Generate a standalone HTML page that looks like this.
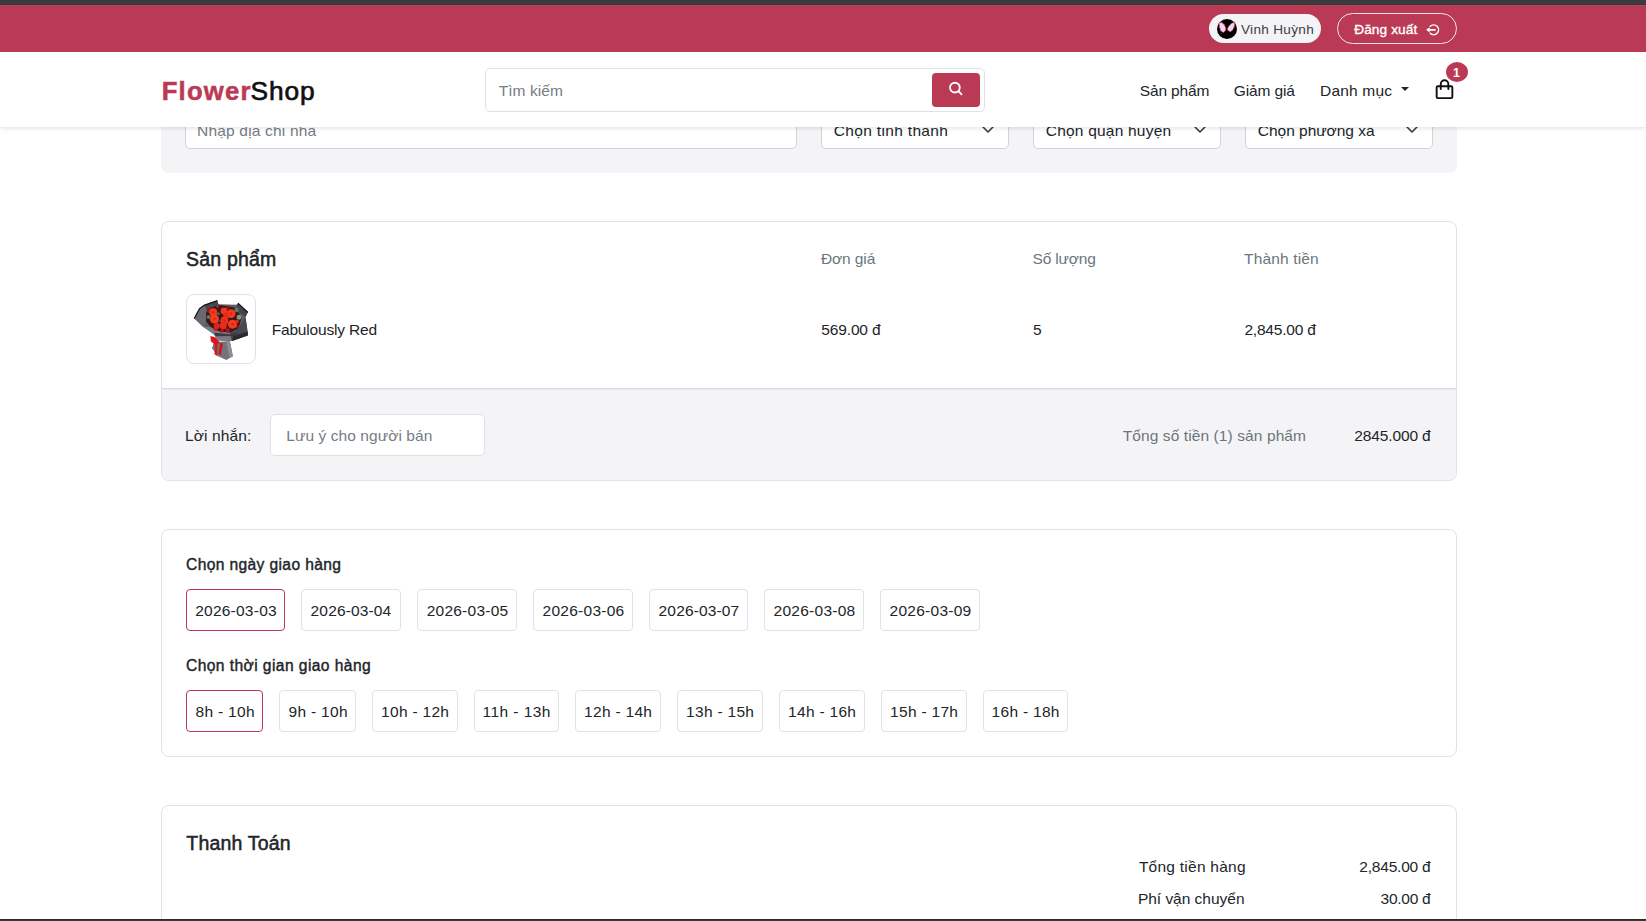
<!DOCTYPE html>
<html lang="vi">
<head>
<meta charset="utf-8">
<title>FlowerShop - Thanh Toán</title>
<style>
*{box-sizing:border-box;margin:0;padding:0}
html,body{width:1646px;height:921px;overflow:hidden;background:#fff}
body{position:relative;font-family:"Liberation Sans",sans-serif;font-size:16px;color:#212529}
.abs{position:absolute}
.t{position:absolute;white-space:nowrap;font-weight:400}
.card{position:absolute;left:161px;width:1296px;border:1px solid #dfe3e7;border-radius:8px;background:#fff;overflow:hidden;z-index:1}
.grey{background:#f4f4f6}
.inp{position:absolute;background:#fff;border:1px solid #dee2e6;border-radius:5px}
.addr .inp{top:45px;height:44px;border-color:#ced4da}
.chip{position:absolute;height:42px;border:1px solid #dfe3e7;border-radius:4px;background:#fff}
.chip.on{border-color:#ba3a55}
svg{position:absolute;overflow:visible}
</style>
</head>
<body>

<header>
  <div class="abs" style="left:0;top:0;width:1646px;height:5px;background:linear-gradient(#3c3c40 0 4px,#34393d 4px 5px);z-index:7"></div>
  <div class="abs" style="left:0;top:5px;width:1646px;height:47px;background:#ba3a55;box-shadow:inset 0 1px 0 #c43a59;z-index:6">
    <div class="abs" style="left:1209px;top:9px;width:112px;height:29px;border-radius:15px;background:#f4f4f6">
      <svg style="left:8px;top:5px" width="20" height="20" viewBox="0 0 20 20">
        <circle cx="10" cy="10" r="10" fill="#000"/>
        <path d="M1.9 4.1 4.5 3.3 7.5 5.8 8.9 9.15 8.5 11.7 6.4 13.6 3.6 12.1 2.5 8.3Z" fill="#dadeff" stroke="#ee1420" stroke-width=".75" stroke-linejoin="round"/>
        <path d="M17.8 3.3 14.8 4.1 11.8 7.1 10.2 10 11.4 12.1 13.6 12.8 16.15 10.4 17.6 6.7Z" fill="#dadeff" stroke="#ee1420" stroke-width=".75" stroke-linejoin="round"/>
        <circle cx="4.3" cy="14.6" r=".6" fill="#3b35a8"/>
      </svg>
      <span class="t" style="left:32.00px;top:4.00px;font-size:13.58px;line-height:24px;color:#3d4147;letter-spacing:0.311px">Vinh Huỳnh</span>
    </div>
    <div class="abs" style="left:1337px;top:8px;width:120px;height:31px;border-radius:16px;border:1px solid #f3e3e7">
      <span class="t" style="left:16.20px;top:4.00px;font-size:13.65px;line-height:24px;color:#ffffff;letter-spacing:0.113px;-webkit-text-stroke:0.35px #ffffff">Đăng xuất</span>
      <svg style="left:87px;top:9px" width="15" height="14" viewBox="0 0 15 14">
        <path d="M5.2 3.3A4.9 4.9 0 1 1 5.2 10.3" fill="none" stroke="#fff" stroke-width="1.45" stroke-linecap="round"/>
        <path d="M3.8 6.8H10" fill="none" stroke="#fff" stroke-width="1.7" stroke-linecap="round"/>
        <path d="M1.2 6.8 4.6 4.2V9.4Z" fill="#fff"/>
      </svg>
    </div>
  </div>
  <nav class="abs" style="left:0;top:52px;width:1646px;height:75px;background:#fff;box-shadow:0 1px 5px rgba(0,0,0,.13);z-index:5">
    <span class="t" style="left:161.75px;top:21.00px;font-size:25.65px;line-height:36px;color:#ba3a55;font-weight:700;letter-spacing:1.199px;-webkit-text-stroke:0.5px #ba3a55">Flower</span><span class="t" style="left:250.60px;top:21.00px;font-size:26.32px;line-height:36px;color:#111111;letter-spacing:0.861px;-webkit-text-stroke:0.68px #111111">Shop</span>
    <div class="inp" style="left:485px;top:16px;width:500px;height:44px">
      <span class="t" style="left:12.75px;top:10.00px;font-size:15.52px;line-height:24px;color:#757c84;letter-spacing:0.042px">Tìm kiếm</span>
      <div class="abs" style="left:446px;top:4px;width:48px;height:34px;border-radius:4px;background:#ba3a55">
        <svg style="left:14px;top:6px" width="20" height="20" viewBox="0 0 20 20">
          <circle cx="8.9" cy="8.6" r="4.85" fill="none" stroke="#fff" stroke-width="1.85"/>
          <path d="M12.5 12.2 15.5 15.3" stroke="#fff" stroke-width="1.9" stroke-linecap="round"/>
        </svg>
      </div>
    </div>
    <span class="t" style="left:1139.75px;top:27.00px;font-size:15.52px;line-height:24px;color:#212529;letter-spacing:-0.151px">Sản phẩm</span><span class="t" style="left:1233.75px;top:27.00px;font-size:15.52px;line-height:24px;color:#212529;letter-spacing:-0.137px">Giảm giá</span><span class="t" style="left:1320.00px;top:27.00px;font-size:15.52px;line-height:24px;color:#212529;letter-spacing:0.185px">Danh mục</span>
    <svg style="left:1401px;top:35px" width="8" height="4" viewBox="0 0 8 4"><path d="M0 0H8L4 4Z" fill="#212529"/></svg>
    <svg style="left:1434px;top:26px" width="22" height="23" viewBox="0 0 22 23">
      <path d="M6.75 11V6A3.8 3.8 0 0 1 14.35 6V11" fill="none" stroke="#111" stroke-width="1.9" stroke-linecap="round"/>
      <rect x="2.65" y="8.25" width="15.7" height="11.9" rx="1.2" fill="none" stroke="#111" stroke-width="1.9"/>
    </svg>
    <div class="abs" style="left:1446px;top:10px;width:22px;height:20px;border-radius:50%;background:#ba3a55"><span class="t" style="left:6.90px;top:-1.00px;font-size:12.35px;line-height:24px;color:#ffffff;font-weight:700">1</span></div>
  </nav>
</header>

<main>
  <section class="abs grey addr" style="left:161px;top:60px;width:1296px;height:113px;border-radius:0 0 8px 8px;z-index:0">
    <div class="inp" style="left:24px;width:612px"><span class="t" style="left:11.10px;top:12.60px;font-size:15.52px;line-height:24px;color:#757c84;letter-spacing:0.172px">Nhập địa chỉ nhà</span></div>
    <div class="inp" style="left:660px;width:188px"><span class="t" style="left:11.75px;top:12.60px;font-size:15.52px;line-height:24px;color:#212529;letter-spacing:0.327px">Chọn tỉnh thành</span><svg style="left:159px;top:16px" width="14" height="12" viewBox="0 0 14 12"><path d="M1.8 4.7 7 10 12.2 4.7" fill="none" stroke="#343a40" stroke-width="1.6" stroke-linecap="round" stroke-linejoin="round"/></svg></div>
    <div class="inp" style="left:872px;width:188px"><span class="t" style="left:11.75px;top:12.60px;font-size:15.52px;line-height:24px;color:#212529;letter-spacing:0.205px">Chọn quận huyện</span><svg style="left:159px;top:16px" width="14" height="12" viewBox="0 0 14 12"><path d="M1.8 4.7 7 10 12.2 4.7" fill="none" stroke="#343a40" stroke-width="1.6" stroke-linecap="round" stroke-linejoin="round"/></svg></div>
    <div class="inp" style="left:1084px;width:188px"><span class="t" style="left:11.75px;top:12.60px;font-size:15.52px;line-height:24px;color:#212529;letter-spacing:-0.023px">Chọn phường xã</span><svg style="left:159px;top:16px" width="14" height="12" viewBox="0 0 14 12"><path d="M1.8 4.7 7 10 12.2 4.7" fill="none" stroke="#343a40" stroke-width="1.6" stroke-linecap="round" stroke-linejoin="round"/></svg></div>
  </section>

  <section class="card" style="top:221px;height:260px">
    <div><span class="t" style="left:24.00px;top:21.60px;font-size:19.5px;line-height:30px;color:#212529;letter-spacing:0.193px;-webkit-text-stroke:0.51px #212529">Sản phẩm</span><span class="t" style="left:658.90px;top:25.00px;font-size:15.52px;line-height:24px;color:#6c757d;letter-spacing:-0.099px">Đơn giá</span><span class="t" style="left:870.50px;top:25.00px;font-size:15.52px;line-height:24px;color:#6c757d;letter-spacing:-0.161px">Số lượng</span><span class="t" style="left:1082.00px;top:25.00px;font-size:15.52px;line-height:24px;color:#6c757d;letter-spacing:0.157px">Thành tiền</span></div>
    <div>
      <div class="abs" style="left:24px;top:72px;width:70px;height:70px;border:1px solid #dee2e6;border-radius:8px;background:#fff">
        <svg style="left:-6px;top:-6px" width="80" height="80" viewBox="0 0 921 921">
  <defs><filter id="bl" x="-10%" y="-10%" width="120%" height="120%"><feGaussianBlur stdDeviation="8"/></filter></defs>
  <g filter="url(#bl)">
    <polygon points="155,340 215,225 270,185 415,135 432,175 640,182 660,165 770,265 742,322 760,440 770,532 585,600 430,592 378,522 250,432" fill="#605d66"/>
    <polygon points="155,340 215,225 270,185 300,255 290,380 250,432" fill="#6b6870"/>
    <polygon points="270,185 415,135 432,175 305,255" fill="#4a464d"/>
    <polygon points="640,182 660,165 770,265 742,322 650,250" fill="#45424a"/>
    <polygon points="290,265 330,225 420,185 520,195 625,215 700,325 660,455 560,505 440,490 345,440 290,375" fill="#3a1418"/>
    <polygon points="250,432 345,440 440,490 560,505 600,592 430,592 378,522" fill="#7d7a83"/>
    <polygon points="560,505 660,455 742,322 760,440 770,532 585,600" fill="#4a474f"/>
    <polygon points="600,545 768,488 770,534 590,598" fill="#2c2930"/>
    <polygon points="380,505 560,520 650,500 640,540 400,545" fill="#3d3a41"/>
    <polygon points="378,612 562,600 597,775 522,817 420,772 358,682" fill="#75727b"/>
    <polygon points="520,612 562,600 597,775 560,795" fill="#8d8b93"/>
    <path d="M152 340 213 226 272 185 420 134M655 163 770 270" fill="none" stroke="#17141a" stroke-width="14"/>
    <polygon points="338,542 402,558 447,620 402,648 343,602" fill="#d8171d"/>
    <polygon points="391,620 421,640 416,772 386,750" fill="#d8171d"/>
    <polygon points="452,620 484,630 457,764 432,744" fill="#cb151b"/>
    <circle cx="328" cy="250" r="28" fill="#a3151a"/><circle cx="425" cy="205" r="22" fill="#7d1015"/><circle cx="540" cy="215" r="22" fill="#8c1217"/>
    <circle cx="400" cy="455" r="26" fill="#b3171b"/><circle cx="470" cy="478" r="24" fill="#9c1418"/><circle cx="535" cy="476" r="28" fill="#a3151a"/><circle cx="640" cy="430" r="22" fill="#98131a"/>
    <circle cx="318" cy="322" r="22" fill="#5f7d66"/><circle cx="640" cy="243" r="26" fill="#5c7863"/><circle cx="668" cy="325" r="28" fill="#7a9a88"/><circle cx="432" cy="285" r="18" fill="#48644f"/><circle cx="420" cy="200" r="12" fill="#48644f"/>
    <circle cx="372" cy="268" r="46" fill="#f1381d"/><circle cx="495" cy="252" r="40" fill="#f1381d"/><circle cx="578" cy="283" r="50" fill="#f23c1f"/>
    <circle cx="385" cy="345" r="52" fill="#f3401f"/><circle cx="500" cy="362" r="46" fill="#ef321c"/><circle cx="592" cy="405" r="52" fill="#f23c1f"/>
    <circle cx="487" cy="420" r="42" fill="#e92a1b"/><circle cx="412" cy="425" r="36" fill="#df231b"/><circle cx="522" cy="305" r="36" fill="#ea2c1b"/><circle cx="645" cy="372" r="22" fill="#e3261b"/>
    <circle cx="372" cy="268" r="14" fill="#d9251a"/><circle cx="578" cy="283" r="16" fill="#d9251a"/><circle cx="385" cy="345" r="16" fill="#dc281b"/><circle cx="592" cy="405" r="16" fill="#d9251a"/><circle cx="500" cy="362" r="14" fill="#d4221a"/>
    <circle cx="442" cy="372" r="12" fill="#3f5a46"/>
  </g>
</svg>
      </div>
      <span class="t" style="left:109.70px;top:96.00px;font-size:15.52px;line-height:24px;color:#212529;letter-spacing:-0.183px">Fabulously Red</span><span class="t" style="left:659.30px;top:96.00px;font-size:15.52px;line-height:24px;color:#212529;letter-spacing:-0.152px">569.00 đ</span><span class="t" style="left:871.00px;top:96.00px;font-size:15.52px;line-height:24px;color:#212529">5</span><span class="t" style="left:1082.40px;top:96.00px;font-size:15.52px;line-height:24px;color:#212529;letter-spacing:-0.206px">2,845.00 đ</span>
    </div>
    <div class="abs grey" style="left:0;top:166px;width:1296px;height:94px;border-top:1px solid #d9dde1;box-shadow:inset 0 1px 0 #e9ebee">
      <span class="t" style="left:23.00px;top:35.00px;font-size:15.52px;line-height:24px;color:#212529;letter-spacing:0.128px">Lời nhắn:</span><span class="t" style="left:960.70px;top:35.00px;font-size:15.52px;line-height:24px;color:#6c757d;letter-spacing:0.092px">Tổng số tiền (1) sản phẩm</span><span class="t" style="left:1192.30px;top:35.00px;font-size:15.52px;line-height:24px;color:#212529;letter-spacing:-0.136px">2845.000 đ</span>
      <div class="inp" style="left:108px;top:25px;width:215px;height:42px"><span class="t" style="left:15.30px;top:9.00px;font-size:15.52px;line-height:24px;color:#757c84;letter-spacing:0.067px">Lưu ý cho người bán</span></div>
    </div>
  </section>

  <section class="card" style="top:529px;height:228px">
    <span class="t" style="left:24.00px;top:23.00px;font-size:15.6px;line-height:24px;color:#212529;letter-spacing:0.373px;-webkit-text-stroke:0.41px #212529">Chọn ngày giao hàng</span>
    <div class="chip on" style="left:24px;top:59px;width:99px"><span class="t" style="left:8.20px;top:9.00px;font-size:15.52px;line-height:24px;color:#212529;letter-spacing:0.229px">2026-03-03</span></div>
    <div class="chip" style="left:139px;top:59px;width:100px"><span class="t" style="left:8.60px;top:9.00px;font-size:15.52px;line-height:24px;color:#212529;letter-spacing:0.140px">2026-03-04</span></div>
    <div class="chip" style="left:255px;top:59px;width:100px"><span class="t" style="left:8.65px;top:9.00px;font-size:15.52px;line-height:24px;color:#212529;letter-spacing:0.240px">2026-03-05</span></div>
    <div class="chip" style="left:371px;top:59px;width:100px"><span class="t" style="left:8.60px;top:9.00px;font-size:15.52px;line-height:24px;color:#212529;letter-spacing:0.251px">2026-03-06</span></div>
    <div class="chip" style="left:487px;top:59px;width:99px"><span class="t" style="left:8.60px;top:9.00px;font-size:15.52px;line-height:24px;color:#212529;letter-spacing:0.140px">2026-03-07</span></div>
    <div class="chip" style="left:602px;top:59px;width:100px"><span class="t" style="left:8.60px;top:9.00px;font-size:15.52px;line-height:24px;color:#212529;letter-spacing:0.251px">2026-03-08</span></div>
    <div class="chip" style="left:718px;top:59px;width:100px"><span class="t" style="left:8.60px;top:9.00px;font-size:15.52px;line-height:24px;color:#212529;letter-spacing:0.251px">2026-03-09</span></div>
    <span class="t" style="left:24.00px;top:124.00px;font-size:15.6px;line-height:24px;color:#212529;letter-spacing:0.422px;-webkit-text-stroke:0.41px #212529">Chọn thời gian giao hàng</span>
    <div class="chip on" style="left:24px;top:160px;width:77px"><span class="t" style="left:8.45px;top:9.00px;font-size:15.52px;line-height:24px;color:#212529;letter-spacing:0.314px">8h - 10h</span></div>
    <div class="chip" style="left:117px;top:160px;width:77px"><span class="t" style="left:8.45px;top:9.00px;font-size:15.52px;line-height:24px;color:#212529;letter-spacing:0.314px">9h - 10h</span></div>
    <div class="chip" style="left:210px;top:160px;width:86px"><span class="t" style="left:8.05px;top:9.00px;font-size:15.52px;line-height:24px;color:#212529;letter-spacing:0.296px">10h - 12h</span></div>
    <div class="chip" style="left:312px;top:160px;width:85px"><span class="t" style="left:7.55px;top:9.00px;font-size:15.52px;line-height:24px;color:#212529;letter-spacing:0.440px">11h - 13h</span></div>
    <div class="chip" style="left:413px;top:160px;width:86px"><span class="t" style="left:8.05px;top:9.00px;font-size:15.52px;line-height:24px;color:#212529;letter-spacing:0.296px">12h - 14h</span></div>
    <div class="chip" style="left:515px;top:160px;width:86px"><span class="t" style="left:8.05px;top:9.00px;font-size:15.52px;line-height:24px;color:#212529;letter-spacing:0.296px">13h - 15h</span></div>
    <div class="chip" style="left:617px;top:160px;width:86px"><span class="t" style="left:8.05px;top:9.00px;font-size:15.52px;line-height:24px;color:#212529;letter-spacing:0.296px">14h - 16h</span></div>
    <div class="chip" style="left:719px;top:160px;width:86px"><span class="t" style="left:8.05px;top:9.00px;font-size:15.52px;line-height:24px;color:#212529;letter-spacing:0.296px">15h - 17h</span></div>
    <div class="chip" style="left:821px;top:160px;width:85px"><span class="t" style="left:7.55px;top:9.00px;font-size:15.52px;line-height:24px;color:#212529;letter-spacing:0.296px">16h - 18h</span></div>
  </section>

  <section class="card" style="top:805px;height:200px">
    <span class="t" style="left:24.30px;top:22.00px;font-size:19.5px;line-height:30px;color:#212529;letter-spacing:0.195px;-webkit-text-stroke:0.51px #212529">Thanh Toán</span>
    <div><span class="t" style="left:976.90px;top:49.00px;font-size:15.52px;line-height:24px;color:#212529;letter-spacing:0.247px">Tổng tiền hàng</span><span class="t" style="left:1197.30px;top:49.00px;font-size:15.52px;line-height:24px;color:#212529;letter-spacing:-0.212px">2,845.00 đ</span></div>
    <div><span class="t" style="left:975.90px;top:81.00px;font-size:15.52px;line-height:24px;color:#212529;letter-spacing:-0.025px">Phí vận chuyển</span><span class="t" style="left:1218.60px;top:81.00px;font-size:15.52px;line-height:24px;color:#212529;letter-spacing:-0.273px">30.00 đ</span></div>
  </section>
</main>

<div class="abs" style="left:0;top:919px;width:1646px;height:2px;background:linear-gradient(#2b2b30 0 1px,#3a3a40 1px 2px);z-index:20"></div>
</body>
</html>
